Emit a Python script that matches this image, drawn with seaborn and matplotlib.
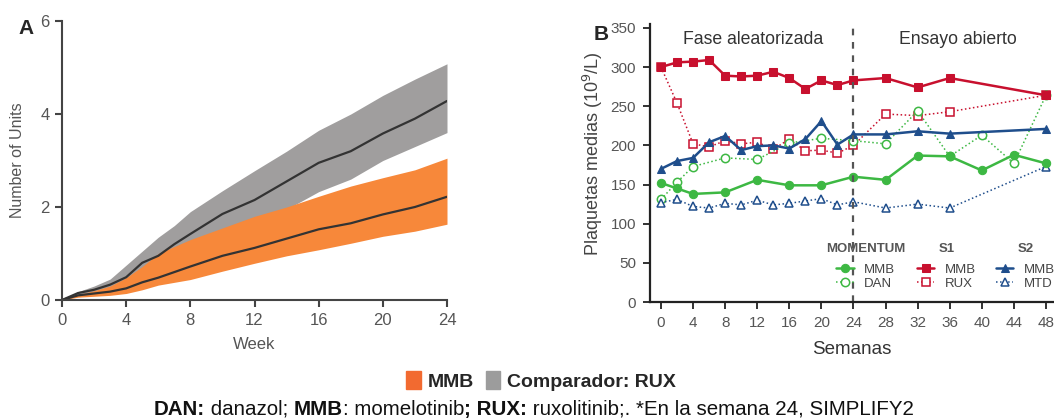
import numpy as np
import pandas as pd
import matplotlib
matplotlib.use("Agg")
import matplotlib.pyplot as plt
import seaborn as sns
from matplotlib.patches import Patch

sns.set_style("ticks")
plt.rcParams['font.family'] = ['Liberation Sans', 'DejaVu Sans']

# Panel A: cumulative transfusion units (mean and band)
weeks_a = [0, 1, 2, 3, 4, 5, 6, 7, 8, 10, 12, 14, 16, 18, 20, 22, 24]
rux_mean = [0, 0.15, 0.22, 0.33, 0.49, 0.80, 0.95, 1.20, 1.42, 1.85, 2.15, 2.55, 2.95, 3.20, 3.58, 3.90, 4.28]
rux_upper = [0, 0.18, 0.30, 0.45, 0.75, 1.05, 1.35, 1.60, 1.90, 2.35, 2.78, 3.20, 3.65, 4.00, 4.40, 4.75, 5.08]
rux_lower = [0, 0.10, 0.14, 0.22, 0.32, 0.55, 0.68, 0.82, 0.95, 1.30, 1.58, 1.95, 2.33, 2.60, 3.00, 3.30, 3.60]
mmb_mean = [0, 0.10, 0.14, 0.18, 0.25, 0.38, 0.48, 0.60, 0.72, 0.95, 1.12, 1.32, 1.52, 1.65, 1.84, 2.00, 2.22]
mmb_upper = [0, 0.12, 0.20, 0.30, 0.48, 0.72, 1.00, 1.15, 1.30, 1.55, 1.80, 2.00, 2.23, 2.45, 2.63, 2.80, 3.05]
mmb_lower = [0, 0.06, 0.08, 0.10, 0.14, 0.22, 0.32, 0.38, 0.44, 0.62, 0.79, 0.95, 1.08, 1.22, 1.37, 1.48, 1.63]

# Panel B: mean platelets (10^9/L)
wk_main = [0, 2, 4, 6, 8, 10, 12, 14, 16, 18, 20, 22, 24, 28, 32, 36, 48]
s1_mmb = [300, 306, 307, 309, 289, 288, 289, 294, 286, 272, 283, 277, 283, 286, 274, 286, 264]
s1_rux = [300, 254, 202, 198, 206, 202, 204, 195, 208, 193, 194, 190, 200, 240, 238, 243, 264]
s2_mmb = [170, 180, 184, 204, 212, 194, 199, 200, 196, 208, 231, 201, 214, 214, 218, 215, 221]
s2_mtd = [127, 131, 122, 120, 126, 124, 130, 124, 126, 129, 132, 124, 128, 120, 125, 120, 173]
wk_mom = [0, 2, 4, 8, 12, 16, 20, 24, 28, 32, 36, 40, 44, 48]
mom_mmb = [152, 145, 138, 140, 156, 149, 149, 160, 156, 187, 186, 168, 188, 177]
mom_dan = [131, 153, 173, 184, 182, 203, 209, 206, 202, 244, 186, 213, 177, 264]

orange = '#F7883A'
grey = '#A09E9E'
red = '#C8102E'
blue = '#1F4E8C'
green = '#3DB843'
tick_col = '#555555'

fig = plt.figure(figsize=(10.54, 4.19), dpi=100)

# ---------------- Panel A ----------------
axA = fig.add_axes([62 / 1054, 1 - 300 / 419, 385 / 1054, 279 / 419])
axA.fill_between(weeks_a, rux_lower, rux_upper, color=grey, lw=0)
axA.fill_between(weeks_a, mmb_lower, mmb_upper, color=orange, lw=0)
sns.lineplot(x=weeks_a, y=rux_mean, ax=axA, color='#333333', lw=1.6)
sns.lineplot(x=weeks_a, y=mmb_mean, ax=axA, color='#333333', lw=1.6)
axA.set_xlim(0, 24)
axA.set_ylim(0, 6)
axA.set_xticks(range(0, 25, 4))
axA.set_yticks([0, 2, 4, 6])
axA.set_xlabel('Week', fontsize=12, color=tick_col, labelpad=7)
axA.set_ylabel('Number of Units', fontsize=11.5, color=tick_col, labelpad=11)
axA.tick_params(colors='#444444', labelcolor=tick_col, labelsize=12, width=1.5, length=5, pad=4)
for s in ['left', 'bottom']:
    axA.spines[s].set_color('#444444')
    axA.spines[s].set_linewidth(1.5)
sns.despine(ax=axA)
fig.text(18 / 1054, 1 - 29 / 419, 'A', fontsize=15, fontweight='bold', va='center')

# ---------------- Panel B ----------------
axB = fig.add_axes([650 / 1054, 1 - 302 / 419, 404 / 1054, 278 / 419])
sns.lineplot(x=wk_main, y=s1_rux, ax=axB, color=red, lw=1.1, linestyle=':',
             marker='s', markersize=6, markerfacecolor='white', markeredgecolor=red, markeredgewidth=1.1)
sns.lineplot(x=wk_mom, y=mom_dan, ax=axB, color=green, lw=1.1, linestyle=':',
             marker='o', markersize=6, markerfacecolor='white', markeredgecolor=green, markeredgewidth=1.1)
sns.lineplot(x=wk_main, y=s2_mtd, ax=axB, color=blue, lw=1.1, linestyle=':',
             marker='^', markersize=6, markerfacecolor='white', markeredgecolor=blue, markeredgewidth=1.1)
sns.lineplot(x=wk_main, y=s1_mmb, ax=axB, color=red, lw=1.8,
             marker='s', markersize=6, markeredgecolor=red)
sns.lineplot(x=wk_main, y=s2_mmb, ax=axB, color=blue, lw=1.8,
             marker='^', markersize=6, markeredgecolor=blue)
sns.lineplot(x=wk_mom, y=mom_mmb, ax=axB, color=green, lw=1.8,
             marker='o', markersize=6, markeredgecolor=green)
h_rux, h_dan, h_mtd, h_s1, h_s2, h_mom = axB.get_lines()

axB.axvline(24, ymin=0, ymax=350 / 355, color='#555555', lw=1.6, linestyle=(0, (3, 3)))
axB.set_xlim(-1.37, 49.0)
axB.set_ylim(0, 355)
axB.set_xticks(range(0, 49, 4))
axB.set_yticks(range(0, 351, 50))
axB.set_xlabel('Semanas', fontsize=13.5, color='#333333', labelpad=8)
axB.set_ylabel('Plaquetas medias (10$^9$/L)', fontsize=13, color='#444444', labelpad=4)
axB.yaxis.label.set_y(0.535)
axB.tick_params(colors='#222222', labelcolor=tick_col, labelsize=11, width=1.3, length=5, pad=5)
for s in ['left', 'bottom']:
    axB.spines[s].set_color('#222222')
    axB.spines[s].set_linewidth(1.6)
sns.despine(ax=axB)
axB.text(11.5, 335, 'Fase aleatorizada', ha='center', va='center', fontsize=12.7, color='#333333')
axB.text(37, 335, 'Ensayo abierto', ha='center', va='center', fontsize=12.7, color='#333333')
fig.text(594 / 1054, 1 - 34 / 419, 'B', fontsize=15, fontweight='bold', va='center')

# three small legends (MOMENTUM, S1, S2)
leg_kw = dict(frameon=False, fontsize=9.5, handlelength=1.3, handletextpad=0.8,
              labelspacing=0.12, borderpad=0, labelcolor='#444444')
groups = [([h_mom, h_dan], ['MMB', 'DAN'], 'MOMENTUM', 0.42),
          ([h_s1, h_rux], ['MMB', 'RUX'], 'S1', 0.645),
          ([h_s2, h_mtd], ['MMB', 'MTD'], 'S2', 0.84)]
for hs, labs, title, xpos in groups:
    lg = axB.legend(hs, labs, title=title, loc='upper left',
                    bbox_to_anchor=(xpos, 0.235), **leg_kw)
    lg.get_title().set_color('#555555')
    lg.get_title().set_fontsize(9.5)
    lg.get_title().set_fontweight('bold')
    lg._legend_box.align = 'center'
    lg._legend_box.sep = 6
    axB.add_artist(lg)
axB.legend_ = None  # last one is already added as an artist

# ---------------- Bottom legend and footnote ----------------
fig.legend(handles=[Patch(color='#F26A30'), Patch(color='#9C9C9C')],
           labels=['MMB', 'Comparador: RUX'], loc='center', ncol=2,
           bbox_to_anchor=(541 / 1054, 1 - 381 / 419), frameon=False,
           prop=dict(weight='bold', size=14),
           handlelength=0.75, handleheight=1.0, handletextpad=0.35, columnspacing=0.6)

pieces = [('DAN:', 'bold'), (' danazol; ', 'normal'), ('MMB', 'bold'),
          (': momelotinib', 'normal'), ('; RUX:', 'bold'),
          (' ruxolitinib;. *En la semana 24, SIMPLIFY2', 'normal')]
renderer = fig.canvas.get_renderer()
texts = []
for s, w in pieces:
    t = fig.text(0, 1 - 409 / 419, s, fontsize=14.8, fontweight=w, va='center', color='#111111')
    texts.append(t)
widths = [t.get_window_extent(renderer).width for t in texts]
x = 534 - sum(widths) / 2
for t, wd in zip(texts, widths):
    t.set_x(x / 1054)
    x += wd

fig.savefig('out.png', dpi=100)
